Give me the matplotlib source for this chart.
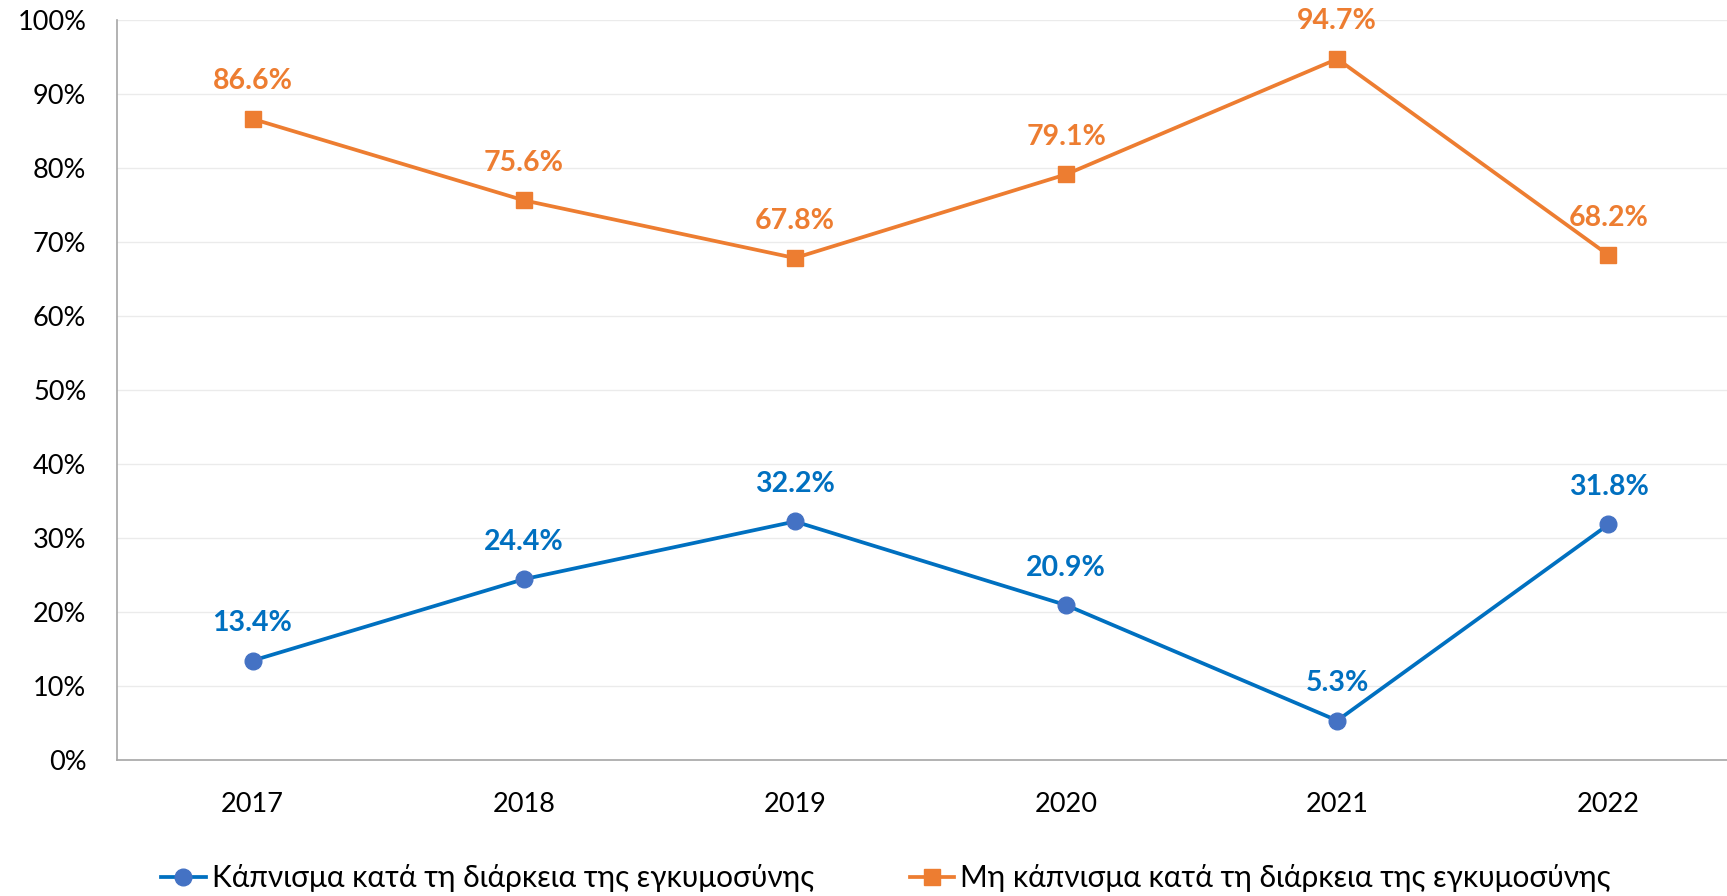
import matplotlib.pyplot as plt
import matplotlib.ticker as ticker

plt.rcParams['font.family'] = ['Lato', 'Noto Sans', 'DejaVu Sans']

years = ['2017', '2018', '2019', '2020', '2021', '2022']
smoking = [13.4, 24.4, 32.2, 20.9, 5.3, 31.8]
non_smoking = [86.6, 75.6, 67.8, 79.1, 94.7, 68.2]
labels = ['Κάπνισμα κατά τη διάρκεια της εγκυμοσύνης',
          'Μη κάπνισμα κατά τη διάρκεια της εγκυμοσύνης']

blue_line = '#0070C0'
blue_mark = '#4472C4'
orange = '#ED7D31'

fig = plt.figure(figsize=(17.27, 8.96), dpi=100)
ax = fig.add_axes([0.0677, 0.152, 0.9323, 0.826])

x = list(range(len(years)))
ax.plot(x, smoking, color=blue_line, lw=2.7, marker='o', markersize=12,
        markerfacecolor=blue_mark, markeredgecolor=blue_mark, label=labels[0], zorder=3)
ax.plot(x, non_smoking, color=orange, lw=2.7, marker='s', markersize=11,
        markerfacecolor=orange, markeredgecolor=orange, label=labels[1], zorder=3)

# data labels above each point
for xi, v in zip(x, smoking):
    ax.annotate(f'{v:.1f}%', (xi, v), xytext=(0, 27), textcoords='offset points',
                ha='center', va='center', fontsize=20.5, fontweight='bold', color=blue_line)
for xi, v in zip(x, non_smoking):
    ax.annotate(f'{v:.1f}%', (xi, v), xytext=(0, 27), textcoords='offset points',
                ha='center', va='center', fontsize=20.5, fontweight='bold', color=orange)

ax.set_ylim(0, 100)
ax.set_xlim(-0.5, 5.437)
ax.set_xticks(x)
ax.set_xticklabels(years)
ax.yaxis.set_major_locator(ticker.MultipleLocator(10))
ax.yaxis.set_major_formatter(ticker.FuncFormatter(lambda v, p: f'{v:.0f}%'))
ax.tick_params(axis='both', length=0, labelsize=19.5, colors='black')
ax.tick_params(axis='x', pad=23)
ax.tick_params(axis='y', pad=22)
ax.grid(axis='y', color='#EBEBEB', lw=1)
ax.set_axisbelow(True)
for s in ['top', 'right']:
    ax.spines[s].set_visible(False)
for s in ['left', 'bottom']:
    ax.spines[s].set_color('#A6A6A6')
    ax.spines[s].set_linewidth(1.2)

fig.legend(loc='center', bbox_to_anchor=(0.513, 0.02), ncol=2, frameon=False,
           fontsize=21.5, handlelength=1.5, handletextpad=0.2, columnspacing=3.2)

fig.savefig('out.png', dpi=100)
